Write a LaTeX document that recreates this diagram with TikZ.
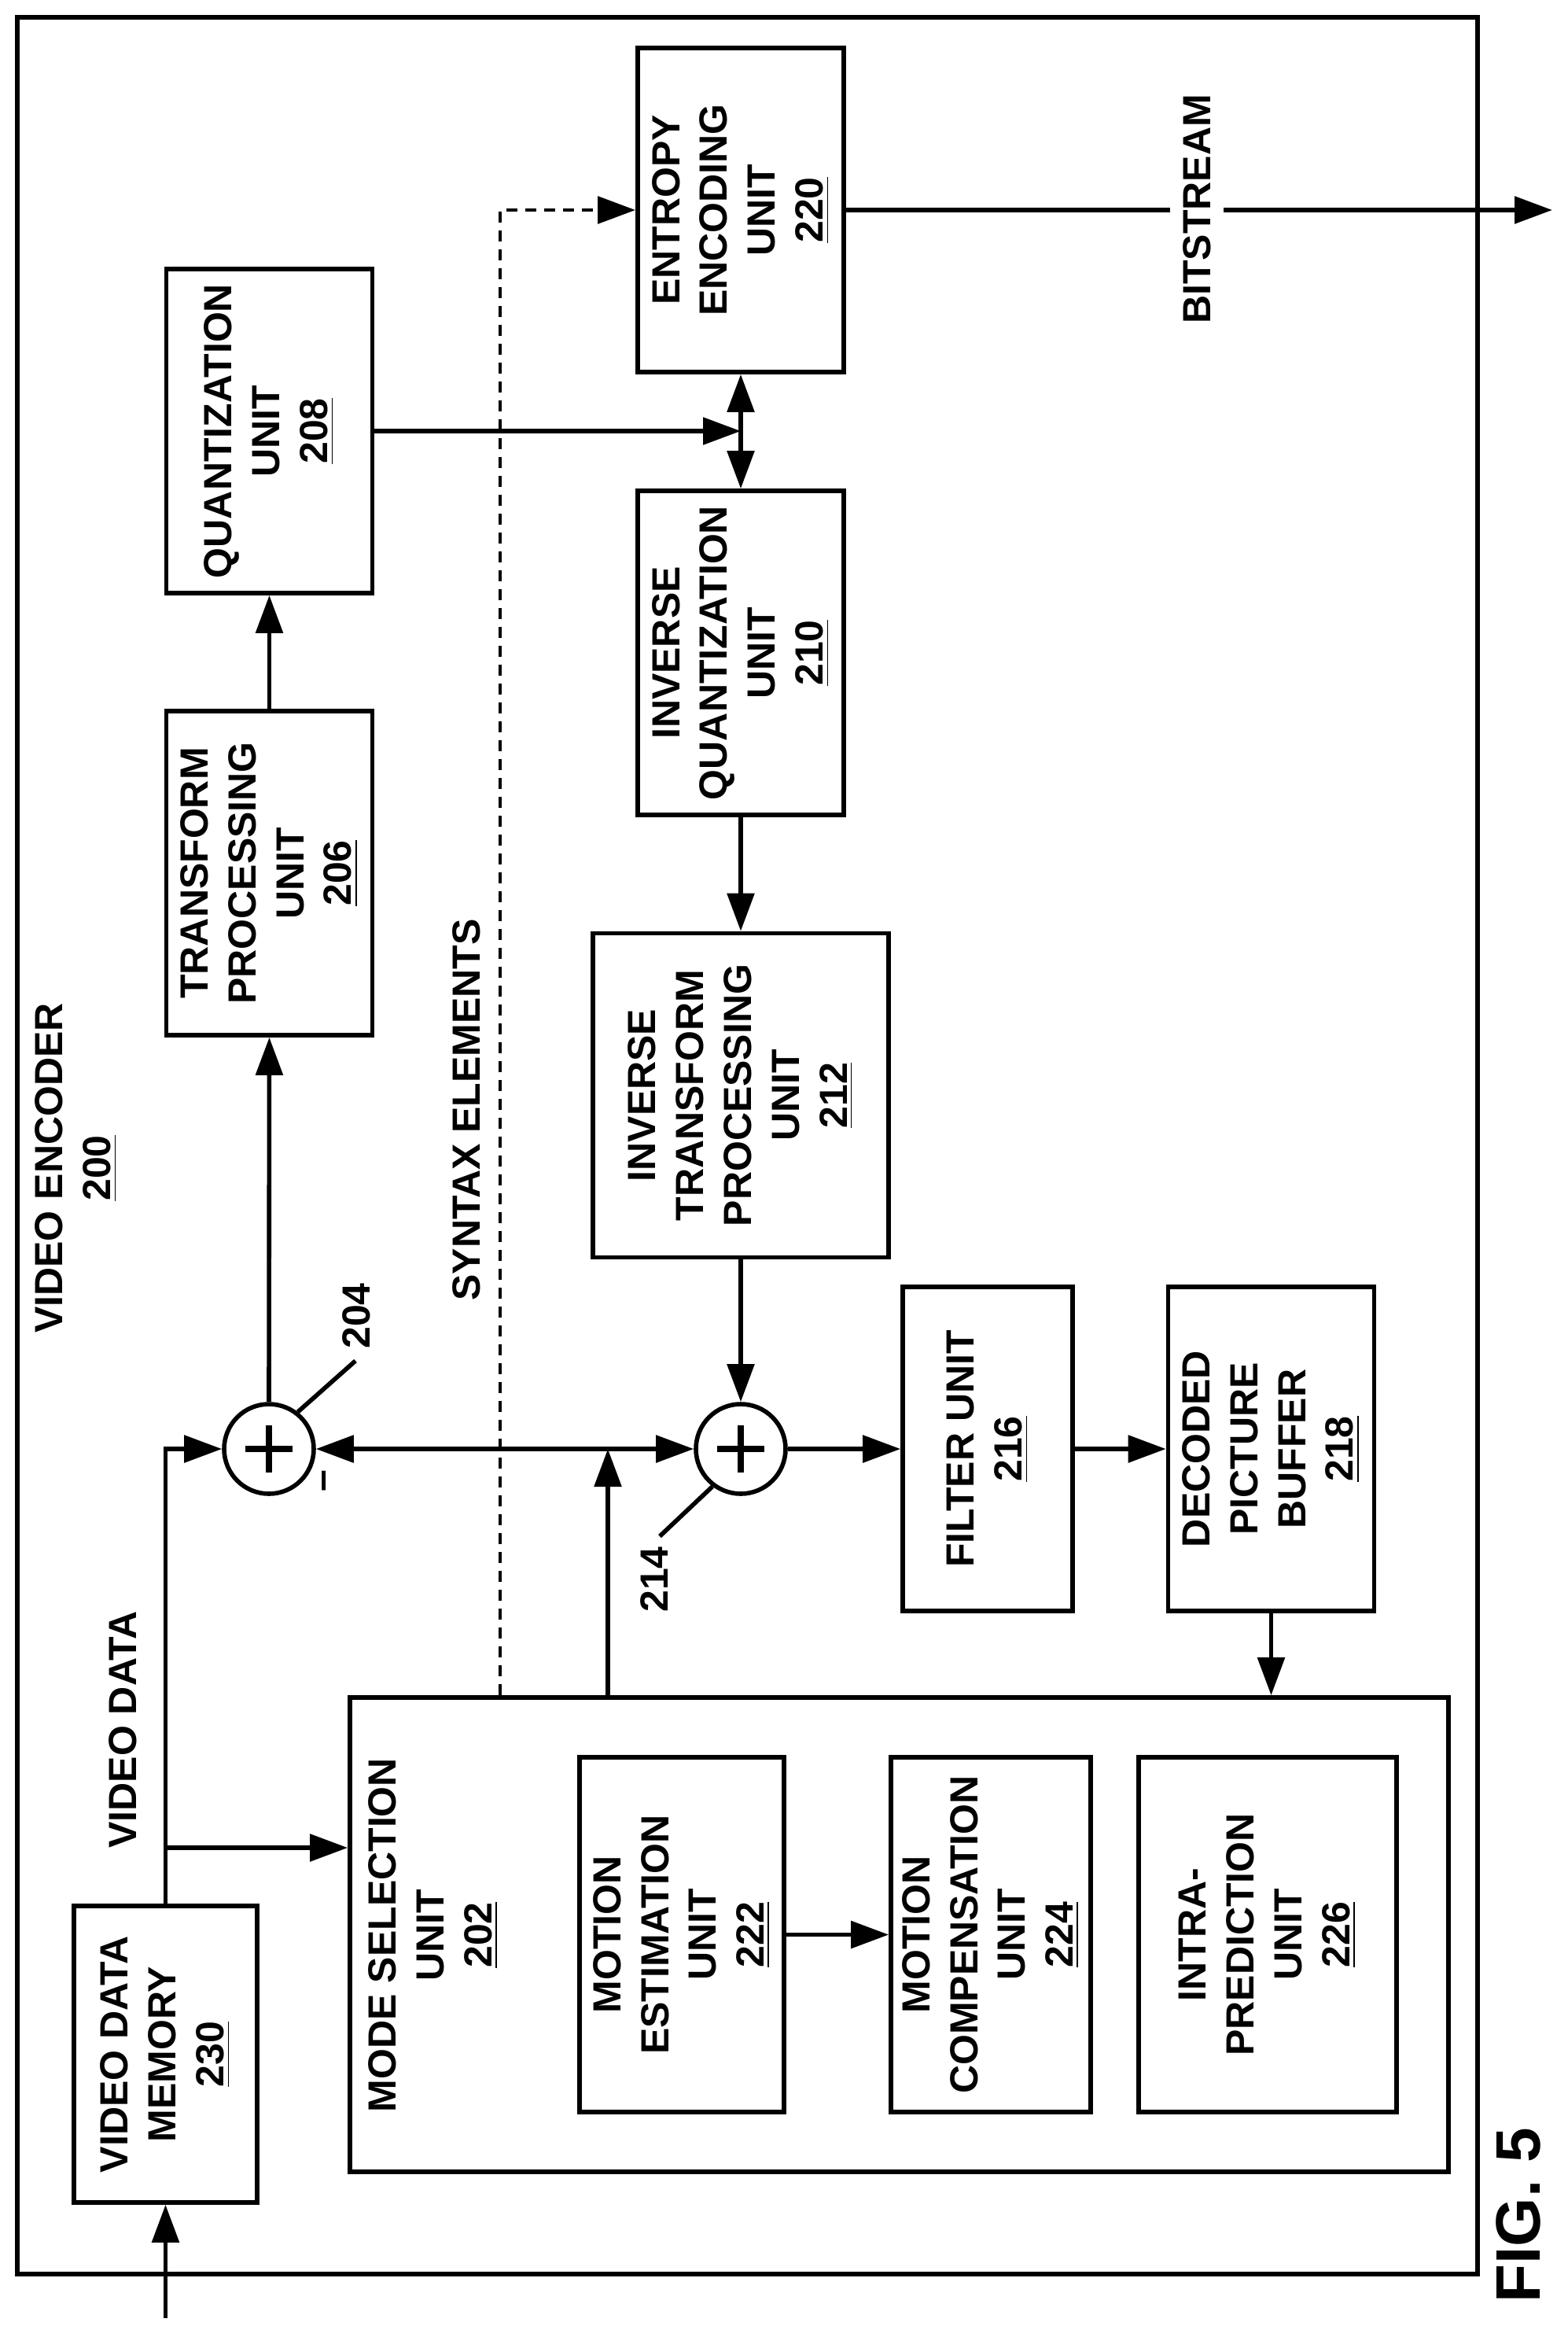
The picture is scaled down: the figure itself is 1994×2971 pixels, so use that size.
\documentclass[tikz,border=0pt]{standalone}
\usepackage{fontspec}
\setmainfont{Liberation Sans}
\usetikzlibrary{arrows.meta}
\begin{document}
\begin{tikzpicture}[x=0.25pt,y=-0.25pt,
  line width=1.4pt,
  >={Triangle[length=12pt,width=8.5pt]},
  txt/.style={font=\fontsize{12.5}{15.2}\selectfont\bfseries,align=center,rotate=90,inner sep=0pt},
  box/.style={txt,draw,line width=1.4pt,minimum width=103pt,minimum height=65.5pt},
  adder/.style={draw,circle,line width=1.4pt,minimum size=28.5pt,inner sep=0pt},
  ]
\useasboundingbox (0,0) rectangle (1994,2971);
\draw (22,22) rectangle (1879,2891);
% boxes
\node[box] (quant) at (342.5,548) {QUANTIZATION\\UNIT\\\underline{208}};
\node[box] (trans) at (342.5,1110) {TRANSFORM\\PROCESSING\\UNIT\\\underline{206}};
\node[box] (ent) at (942,267) {ENTROPY\\ENCODING\\UNIT\\\underline{220}};
\node[box] (iq) at (942,830) {INVERSE\\QUANTIZATION\\UNIT\\\underline{210}};
\node[box,minimum height=94pt] (it) at (942,1392.5) {INVERSE\\TRANSFORM\\PROCESSING\\UNIT\\\underline{212}};
\node[box,minimum height=54pt] (filt) at (1256,1842) {FILTER UNIT\\\underline{216}};
\node[box] (dpb) at (1616.5,1842) {DECODED\\PICTURE\\BUFFER\\\underline{218}};
\node[box,minimum width=94.25pt,minimum height=58.25pt] (mem) at (210.5,2611.5) {VIDEO DATA\\MEMORY\\\underline{230}};
\node[box,minimum width=150.75pt,minimum height=349.25pt] (mode) at (1143.5,2459.5) {};
\node[txt] (modelbl) at (551,2460) {MODE SELECTION\\UNIT\\\underline{202}};
\node[box,minimum width=112.75pt,minimum height=65pt] (me) at (867,2459.5) {MOTION\\ESTIMATION\\UNIT\\\underline{222}};
\node[box,minimum width=112.75pt,minimum height=63.5pt] (mc) at (1260,2459.5) {MOTION\\COMPENSATION\\UNIT\\\underline{224}};
\node[box,minimum width=112.75pt,minimum height=82pt] (intra) at (1612,2459.5) {INTRA-\\PREDICTION\\UNIT\\\underline{226}};
% adders
\node[adder] (a204) at (342,1842) {};
\node[adder] (a214) at (942,1842) {};
\foreach \a in {a204,a214}{
  \draw[line width=1.8pt] ([xshift=-7.5pt]\a.center) -- ([xshift=7.5pt]\a.center);
  \draw[line width=1.8pt] ([yshift=-7.5pt]\a.center) -- ([yshift=7.5pt]\a.center);
}
\node[txt] (minus) at (418,1883) {\textendash};
% labels
\node[txt] (l204t) at (453,1673) {204};
\node[txt] (l214t) at (832,2008) {214};
\coordinate (l204) at (452,1730);
\coordinate (l214) at (839,1953);
\draw (a204.52) -- (l204);
\draw (a214.233) -- (l214);
\node[txt] (enc) at (97,1485) {VIDEO ENCODER\\\underline{200}};
\node[txt] (vdl) at (156,2199) {VIDEO DATA};
\node[txt] (synl) at (593,1411) {SYNTAX ELEMENTS};
\node[txt,font=\fontsize{20}{24}\selectfont\bfseries] (fig) at (1931,2816) {FIG. 5};
% connectors
\coordinate (in) at (210.5,2947);
\draw[->] (in) -- (mem.west);
\draw[->] (mem.east) |- (a204.west);
\coordinate (vdj) at (210.5,2349);
\draw[->] (vdj) -- (vdj -| mode.north);
\draw[->] (a204.north) -- (trans.west);
\draw[->] (trans.east) -- (quant.west);
\draw[->] (quant.south) -- (quant.south -| ent.west);
\draw[<->] (ent.west) -- (iq.east);
\draw[->] (iq.west) -- (it.east);
\draw[->] (it.west) -- (a214.north);
\draw[->] (a214.east) -- (filt.north);
\draw[->] (filt.south) -- (dpb.north);
\draw[->] (dpb.west) -- (dpb.west |- mode.east);
\coordinate (j) at (773,1842);
\draw[<->] (a204.east) -- (a214.west);
\draw[->] (j |- mode.east) -- (j);
\coordinate (syn) at (636,267);
\draw[line width=1.2pt,dash pattern=on 3.5pt off 2.5pt] (syn |- mode.east) -- (syn) -- (ent.north);
\draw[->] ([xshift=-12pt]ent.north) -- (ent.north);
\coordinate (bs) at (1974,267);
\draw[->] (ent.south) -- (bs);
\node[txt,fill=white,inner xsep=3pt,inner ysep=4pt] (bsl) at (1522,266) {BITSTREAM};
\draw[->] (me.south) -- (mc.north);
\end{tikzpicture}
\end{document}
